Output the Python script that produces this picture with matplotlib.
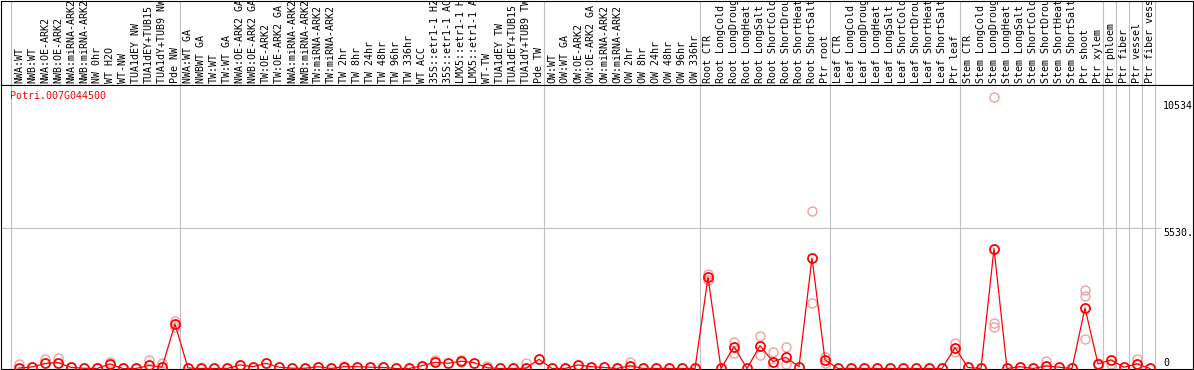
import matplotlib
matplotlib.use("Agg")
import matplotlib.pyplot as plt
from matplotlib.transforms import blended_transform_factory

# amostras (ordem do grafico)
amostras = [
    "NWA:WT", "NWB:WT", "NWA:OE-ARK2", "NWB:OE-ARK2", "NWA:miRNA-ARK2", "NWB:miRNA-ARK2",
    "NW 0hr", "WT H2O", "WT-NW", "TUA1dEY NW", "TUA1dEY+TUB15", "TUA1dY+TUB9 NW", "Pde NW",
    "NWA:WT GA", "NWBWT GA", "TW:WT", "TW:WT GA", "NWA:OE-ARK2 GA", "NWB:OE-ARK2 GA",
    "TW:OE-ARK2", "TW:OE-ARK2 GA", "NWA:miRNA-ARK2", "NWB:miRNA-ARK2", "TW:miRNA-ARK2",
    "TW:miRNA-ARK2", "TW 2hr", "TW 8hr", "TW 24hr", "TW 48hr", "TW 96hr", "TW 336hr",
    "WT ACC", "35S::etr1-1 H2O", "35S::etr1-1 ACC", "LMX5::etr1-1 H2O", "LMX5::etr1-1 ACC",
    "WT-TW", "TUA1dEY TW", "TUA1dEY+TUB15 TW", "TUA1dY+TUB9 TW", "Pde TW",
    "OW:WT", "OW:WT GA", "OW:OE-ARK2", "OW:OE-ARK2 GA", "OW:miRNA-ARK2", "OW:miRNA-ARK2",
    "OW 2hr", "OW 8hr", "OW 24hr", "OW 48hr", "OW 96hr", "OW 336hr",
    "Root CTR", "Root LongCold", "Root LongDrought", "Root LongHeat", "Root LongSalt",
    "Root ShortCold", "Root ShortDrought", "Root ShortHeat", "Root ShortSalt", "Ptr root",
    "Leaf CTR", "Leaf LongCold", "Leaf LongDrought", "Leaf LongHeat", "Leaf LongSalt",
    "Leaf ShortCold", "Leaf ShortDrought", "Leaf ShortHeat", "Leaf ShortSalt", "Ptr leaf",
    "Stem CTR", "Stem LongCold", "Stem LongDrought", "Stem LongHeat", "Stem LongSalt",
    "Stem ShortCold", "Stem ShortDrought", "Stem ShortHeat", "Stem ShortSalt", "Ptr shoot",
    "Ptr xylem", "Ptr phloem", "Ptr fiber", "Ptr vessel", "Ptr fiber vessel",
]

# media da expressao
media = [
    20, 60, 200, 230, 40, 10, 0, 180, 0, 0, 120, 50, 1745,
    20, 0, 0, 0, 140, 70, 205, 50, 10, 10, 70, 0, 70, 70, 50, 40, 0, 0,
    110, 245, 205, 285, 230, 30, 0, 0, 10, 360,
    0, 0, 140, 70, 40, 0, 110, 0, 0, 0, 0, 0,
    3590, 0, 860, 0, 900, 270, 440, 70, 4350, 335,
    0, 0, 0, 0, 0, 0, 0, 0, 0, 820,
    40, 0, 4720, 0, 70, 0, 100, 50, 0, 2380,
    180, 335, 50, 180, 0,
]

# replicas visiveis (indice da amostra, valor)
rep_idx = [0, 2, 3, 7, 10, 11, 12, 12, 25, 32, 34, 34, 36, 39, 47,
           53, 53, 55, 55, 57, 57, 58, 58, 59, 59, 61, 61, 62, 62,
           72, 72, 75, 75, 75, 79, 82, 82, 82, 83, 84, 86]
rep_val = [165, 360, 400, 270, 335, 205, 1850, 1650, 90, 335, 330, 240, 90, 215, 245,
           3730, 3500, 1060, 600, 1260, 530, 640, 70, 860, 180, 6190, 2575, 440, 200,
           990, 660, 10673, 1810, 1630, 300, 3100, 2860, 1165, 230, 180, 360]

# separadores (indice onde comeca o grupo)
separadores = [0, 13, 41, 53, 63, 73, 84, 85, 86, 87, 88]

gene = "Potri.007G044500"
y_marcas = [10534, 5530.5, 0]
y_textos = ["10534", "5530.5", "0"]

W, H = 1194, 370
fonte = dict(family="DejaVu Sans Mono", fontsize=7.2)
cinza = "#c0c0c0"

fig = plt.figure(figsize=(W / 100, H / 100), dpi=100)

# eixo dos rotulos (topo) e eixo do grafico
ax_lab = fig.add_axes([1 / W, (H - 85) / H, 1192 / W, 84.5 / H])
ax = fig.add_axes([1 / W, 1 / H, 1192 / W, 284 / H])

x0 = (1 - 19) / 13
x1 = (1193 - 19) / 13
for a in (ax_lab, ax):
    a.set_xlim(x0, x1)
    a.set_xticks([])
    a.set_yticks([])
    for s in a.spines.values():
        s.set_color("black")
        s.set_linewidth(0.8)
    for b in separadores:
        a.axvline(b - 0.6, color=cinza, lw=0.8, zorder=0)

ax_lab.set_ylim(0, 1)
trans_lab = blended_transform_factory(ax_lab.transData, ax_lab.transAxes)
for i, nome in enumerate(amostras):
    ax_lab.text(i, 2 / 85, nome, rotation=90, ha="center", va="bottom",
                transform=trans_lab, clip_on=True, color="black", **fonte)

# grafico
ax.set_ylim(-20, 11158)
ax.axhline(5530.5, xmin=0, xmax=(1160 - 1) / 1192, color=cinza, lw=0.8, zorder=0)

ax.plot(rep_idx, rep_val, "o", ms=6.5, mfc="none", mec="#f2a0a0", mew=1.0,
        clip_on=False, zorder=2)
ax.plot(range(len(media)), media, "-", color="#ff0000", lw=0.9, zorder=3, clip_on=False)
ax.plot(range(len(media)), media, "o", ms=6.5, mfc="none", mec="#ff0000", mew=1.3,
        clip_on=False, zorder=4)

trans_y = blended_transform_factory(ax.transAxes, ax.transData)
xt = (1163 - 1) / 1192
for v, t in zip(y_marcas, y_textos):
    va = "bottom" if v == 0 else "top"
    ax.text(xt, v, t, transform=trans_y, ha="left", va=va, clip_on=True,
            color="black", **fonte)

ax.text(9 / 1192, (369 - 91) / 284, gene, transform=ax.transAxes, ha="left", va="top",
        color="#ff0000", **fonte)

fig.savefig("out.png", dpi=100)
